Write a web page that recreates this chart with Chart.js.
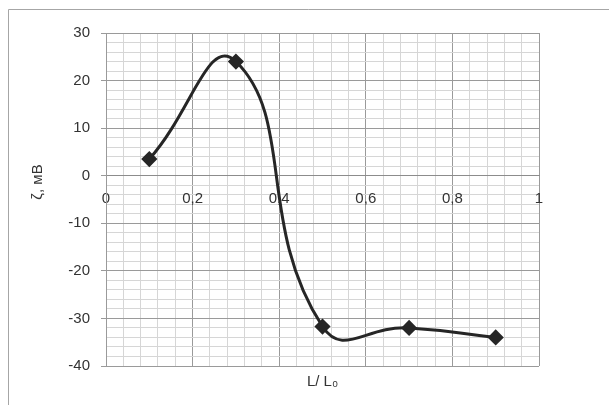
<!DOCTYPE html>
<html>
<head>
<meta charset="utf-8">
<script src="https://cdn.jsdelivr.net/npm/chart.js@4.4.1/dist/chart.umd.min.js"></script>
<style>
  html, body { margin: 0; padding: 0; background: #fff; }
  #wrap { width: 609px; height: 405px; }
</style>
</head>
<body>
<div id="wrap"><canvas id="c"></canvas></div>
<script>
// data
const lRatio = [0.1, 0.3, 0.5, 0.7, 0.9];
const zeta = [3.5, 24, -31.7, -32, -34];
const xTitle = 'L/ L\u2080';
const yTitle = '\u03B6, \u043C\u0412';

Chart.defaults.font.family = '"Liberation Sans", Arial, sans-serif';
Chart.defaults.font.size = 15;
Chart.defaults.color = '#333';

const isMajor = (v, step) => Math.abs(v / step - Math.round(v / step)) < 1e-6;

// outer frame + rotated y title
const frame = {
  id: 'frame',
  afterDraw(chart) {
    const ctx = chart.ctx;
    ctx.save();
    ctx.strokeStyle = '#a6a6a6';
    ctx.lineWidth = 1;
    ctx.beginPath();
    ctx.moveTo(8.5, 405);
    ctx.lineTo(8.5, 9.5);
    ctx.lineTo(609, 9.5);
    ctx.stroke();

    ctx.translate(38, 182);
    ctx.rotate(-Math.PI / 2);
    ctx.fillStyle = '#333';
    ctx.font = '15px "Liberation Sans", Arial, sans-serif';
    ctx.textAlign = 'center';
    ctx.textBaseline = 'middle';
    ctx.fillText(yTitle, 0, 0);
    ctx.restore();
  }
};

new Chart(document.getElementById('c'), {
  type: 'line',
  data: {
    datasets: [{
      data: lRatio.map((x, i) => ({ x: x, y: zeta[i] })),
      borderColor: '#262626',
      backgroundColor: '#262626',
      borderWidth: 3,
      tension: 0.5,
      pointStyle: 'rectRot',
      pointRadius: 6,
      pointHoverRadius: 6,
      fill: false
    }]
  },
  options: {
    responsive: true,
    maintainAspectRatio: false,
    animation: false,
    events: [],
    layout: { padding: { left: 0, right: 70, top: 33, bottom: 0 } },
    plugins: { legend: { display: false }, tooltip: { enabled: false } },
    scales: {
      x: {
        type: 'linear',
        position: { y: 0 },
        min: 0,
        max: 1,
        ticks: {
          stepSize: 0.04,
          autoSkip: false,
          maxRotation: 0,
          padding: 9,
          callback: v => isMajor(v, 0.2) ? String(Math.round(v * 10) / 10).replace('.', ',') : ''
        },
        grid: {
          color: c => isMajor(c.tick.value, 0.2) ? '#9a9a9a' : '#d6d6d6',
          tickColor: 'transparent',
          tickLength: 5
        },
        border: { color: '#8c8c8c' }
      },
      x2: {
        type: 'linear',
        position: 'bottom',
        min: 0,
        max: 1,
        ticks: { display: false },
        grid: { display: false },
        border: { display: false },
        title: { display: true, text: xTitle, padding: { top: 0, bottom: 14 } },
        afterFit: s => { s.height = 39; }
      },
      y: {
        min: -40,
        max: 30,
        ticks: {
          stepSize: 2,
          autoSkip: false,
          padding: 11,
          callback: v => isMajor(v, 10) ? String(v) : ''
        },
        grid: {
          color: c => isMajor(c.tick.value, 10) ? '#9a9a9a' : '#d6d6d6',
          tickColor: c => isMajor(c.tick.value, 10) ? '#9a9a9a' : 'transparent',
          tickLength: 5
        },
        border: { color: '#9a9a9a' },
        afterFit: s => { s.width = 106; }
      }
    }
  },
  plugins: [frame]
});
</script>
</body>
</html>
